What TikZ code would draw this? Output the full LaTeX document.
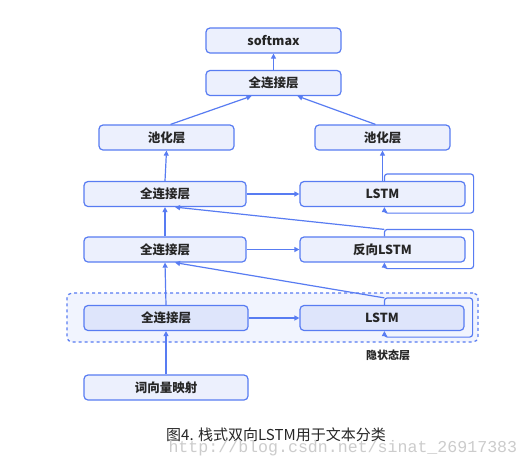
\documentclass[tikz,border=0pt]{standalone}
\usepackage{fontspec}
\usetikzlibrary{arrows.meta,calc}
\newfontfamily\cjk{Noto Sans CJK SC}
\newfontfamily\wmfont{Liberation Mono}
\definecolor{bblue}{RGB}{88,124,242}
\definecolor{bfill}{RGB}{236,240,253}
\definecolor{bfilldark}{RGB}{222,229,251}
\definecolor{dfill}{RGB}{241,244,254}
\begin{document}
\begin{tikzpicture}[x=1pt,y=-1pt,
  box/.style={draw=bblue, fill=bfill, rounded corners=4pt, line width=1.2pt,
    minimum height=25pt, inner sep=0pt, font=\cjk\bfseries\fontsize{12.5}{14}\selectfont, text=black!85},
  ln/.style={draw=bblue, line width=1.2pt},
  arr/.style={ln, -{Triangle[length=5pt,width=5pt]}}]
\useasboundingbox (0,0) rectangle (530,467);
\fill[white] (0,0) rectangle (530,467);
% hidden layer frame
\node[draw=bblue, dashed, fill=dfill, rounded corners=5pt, line width=1.2pt,
  minimum width=411pt, minimum height=49pt, inner sep=0pt] (hid) at (272.5,317.5) {};
% nodes
\node[box, minimum width=135pt] (soft) at (273.5,40.5) {softmax};
\node[box, minimum width=135pt] (fctop) at (273.5,83) {全连接层};
\node[box, minimum width=135pt] (poolL) at (166.5,137.5) {池化层};
\node[box, minimum width=135pt] (poolR) at (382.5,137.5) {池化层};
\node[box, minimum width=162pt] (fc3) at (165,194) {全连接层};
\node[box, minimum width=165pt] (lstm3) at (382.5,194) {LSTM};
\node[box, minimum width=162pt] (fc4) at (165,249.5) {全连接层};
\node[box, minimum width=165pt] (lstm4) at (382.5,249.5) {反向LSTM};
\node[box, minimum width=164pt, fill=bfilldark] (fc5) at (166,318) {全连接层};
\node[box, minimum width=164pt, fill=bfilldark] (lstm5) at (382,318) {LSTM};
\node[box, minimum width=164pt] (emb) at (166,387.5) {词向量映射};
\node[font=\cjk\bfseries\fontsize{11}{13}\selectfont, text=black!85] (hidlbl) at (388,355) {隐状态层};
% vertical arrows
\draw[arr] (emb.north) -- (fc5.south);
\draw[arr] (fc5.north) -- (fc4.south);
\draw[arr] (fc4.north) -- (fc3.south);
\draw[arr] (fc3.north) -- (poolL.south);
\draw[arr] (lstm3.north) -- (poolR.south);
\draw[arr] (fctop.north) -- (soft.south);
\draw[arr] ($(poolL.north)+(4,0)$) -- ($(fctop.south)+(-22,0)$);
\draw[arr] ($(poolR.north)+(-7,0)$) -- ($(fctop.south)+(24,0)$);
% horizontal arrows
\draw[arr] (fc3.east) -- (lstm3.west);
\draw[arr] (fc4.east) -- (lstm4.west);
\draw[arr] (fc5.east) -- (lstm5.west);
% diagonal arrows
\draw[arr] ($(lstm4.north west)+(85,-7)$) -- ($(fc3.south)+(10,0)$);
\draw[arr] ($(lstm5.north west)+(85,-7)$) -- ($(fc4.south)+(10,0)$);
% recurrent loops
\foreach \L in {lstm3,lstm4,lstm5}{
  \draw[ln, rounded corners=3pt] ($(\L.north west)+(85,0)$) |- ($(\L.north east)+(8,-7)$)
     |- ($(\L.south west)+(85,6)$) -- ($(\L.south west)+(85,3)$);
  \draw[arr] ($(\L.south west)+(85,4)$) -- ($(\L.south west)+(85,0)$);
}
% caption
\node[font=\cjk\fontsize{15}{17}\selectfont, text=black!85] (cap) at (276,435) {图4. 栈式双向LSTM用于文本分类};
\node[font=\wmfont\fontsize{16.6}{18}\selectfont, text=black!20, anchor=west] (wm) at (165,448) {http://blog.csdn.net/sinat\_26917383};
\end{tikzpicture}
\end{document}
